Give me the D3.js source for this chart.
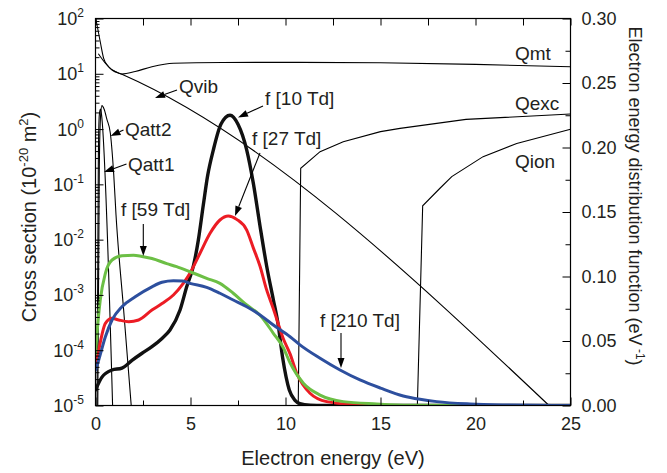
<!DOCTYPE html>
<html>
<head>
<meta charset="utf-8">
<script src="https://cdn.jsdelivr.net/npm/d3@7"></script>
<style>
  body { margin: 0; background: #fff; }
  #container { width: 667px; height: 473px; }
  text { font-family: "Liberation Sans", Arial, sans-serif; fill: #231f20; }
</style>
</head>
<body>
<div id="container"></div>
<script>
const width = 667;
const height = 473;

// axis ticks
const energyTicks = [0, 5, 10, 15, 20, 25];
const energyMinor = [2.5, 7.5, 12.5, 17.5, 22.5];
const csExponents = [2, 1, 0, -1, -2, -3, -4, -5];
const eedfTicks = [0, 0.05, 0.10, 0.15, 0.20, 0.25, 0.30];

// cross sections (10^-20 m^2) vs energy (eV)
const qmtE = [0.02, 0.25, 0.43, 0.69, 1.04, 1.39, 2.09, 2.97, 4.1, 6.7, 10.7, 15, 20, 25];
const qmtV = [98, 38, 19, 13.4, 11, 9.9, 11, 13.4, 15.5, 16, 16.1, 15.8, 14.8, 13.4];
const qvibE = [0.15, 0.52, 0.87, 1.39, 23.87];
const qvibV = [23, 15.5, 11.7, 9.8, 1e-5];
const qexcE = [10.67, 10.8, 11.82, 13.04, 15.0, 16.03, 19.5, 25];
const qexcV = [1e-5, 0.195, 0.39, 0.59, 0.9, 1.03, 1.5, 1.87];
const qionE = [16.94, 17.22, 18.13, 18.75, 20.4, 22.17, 25];
const qionV = [1e-5, 0.041, 0.085, 0.138, 0.317, 0.55, 0.99];
const qatt1E = [0.08, 0.15, 0.2, 0.26, 0.3, 0.9];
const qatt1V = [1e-5, 0.3, 1.8, 2.3, 2.0, 1e-5];
const qatt2E = [0.12, 0.2, 0.27, 0.34, 0.45, 0.6, 0.78, 0.96, 1.08, 1.48, 1.88];
const qatt2V = [1e-5, 0.2, 1.8, 2.65, 2.3, 1.5, 0.85, 0.15, 0.028, 5.4e-4, 1e-5];

// electron energy distribution functions (eV^-1)
const f10E = [0, 0.34, 0.87, 1.39, 1.92, 2.45, 2.97, 3.5, 3.92, 4.45, 4.8, 5.15, 5.41, 5.67, 5.9, 6.2, 6.6, 7.08, 7.5, 7.96, 8.31, 8.66, 9.01, 9.36, 9.6, 9.85, 10.2, 10.5, 10.76, 11.3, 12, 25];
const f10V = [0.012, 0.022, 0.0275, 0.029, 0.035, 0.0405, 0.0456, 0.052, 0.0585, 0.074, 0.092, 0.108, 0.128, 0.155, 0.178, 0.198, 0.218, 0.225, 0.218, 0.198, 0.172, 0.139, 0.108, 0.082, 0.064, 0.037, 0.012, 0.004, 0.0015, 0.0003, 0, 0];
const f27E = [0, 0.17, 0.52, 0.87, 1.22, 1.75, 2.27, 2.97, 3.5, 4.1, 4.62, 4.97, 5.5, 6.03, 6.55, 6.99, 7.43, 7.96, 8.31, 8.66, 9.0, 9.36, 9.88, 10.24, 10.59, 11.29, 12.17, 13.9, 15, 25];
const f27V = [0.030, 0.043, 0.0637, 0.0676, 0.0663, 0.065, 0.0663, 0.074, 0.079, 0.0857, 0.0947, 0.1025, 0.118, 0.1335, 0.1438, 0.1469, 0.1443, 0.136, 0.122, 0.108, 0.09, 0.075, 0.052, 0.04, 0.025, 0.0095, 0.003, 0.0004, 0, 0];
const f59E = [0, 0.08, 0.25, 0.52, 0.87, 1.39, 2.0, 2.45, 2.97, 3.75, 4.27, 4.97, 5.85, 6.55, 7.25, 7.96, 8.66, 9.36, 9.88, 10.24, 10.94, 11.82, 13.04, 14.8, 16.5, 25];
const f59V = [0.040, 0.056, 0.0818, 0.1025, 0.1128, 0.116, 0.1165, 0.1155, 0.114, 0.110, 0.1076, 0.1037, 0.0986, 0.0947, 0.087, 0.0779, 0.070, 0.056, 0.045, 0.033, 0.0172, 0.0081, 0.003, 0.0012, 0.0002, 0];
const f210E = [0, 0.17, 0.52, 0.87, 1.39, 2.09, 2.97, 3.5, 4.1, 4.6, 4.97, 5.85, 6.55, 7.25, 7.96, 8.66, 9.36, 10.24, 10.76, 11.82, 12.87, 13.92, 15.0, 16.2, 17.08, 17.96, 19.71, 21.5, 23, 25];
const f210V = [0.0275, 0.0353, 0.0533, 0.0663, 0.0766, 0.0843, 0.092, 0.0955, 0.0967, 0.0965, 0.0947, 0.0916, 0.087, 0.0818, 0.0766, 0.0702, 0.0624, 0.0533, 0.047, 0.0366, 0.0275, 0.0198, 0.0135, 0.0074, 0.0048, 0.003, 0.0012, 0.0004, 0.0001, 0];

const svg = d3.create("svg")
    .attr("width", width)
    .attr("height", height)
    .attr("viewBox", `0 0 ${width} ${height}`)
    .attr("xmlns", "http://www.w3.org/2000/svg");

const plotLeft = 95.5, plotRight = 570.5, plotTop = 18.5, plotBottom = 405.5;

const x = d3.scaleLinear().domain([0, 25]).range([plotLeft, plotRight]);
const yL = d3.scaleLog().domain([1e-5, 1e2]).range([plotBottom, plotTop]);
const yR = d3.scaleLinear().domain([0, 0.30]).range([plotBottom, plotTop]);

svg.append("clipPath").attr("id", "plot-clip")
    .append("rect")
    .attr("x", plotLeft).attr("y", plotTop)
    .attr("width", plotRight - plotLeft).attr("height", plotBottom - plotTop);

const zip = (a, b) => a.map((v, i) => [v, b[i]]);

// cross section curves
const csLine = d3.line().x(d => x(d[0])).y(d => yL(d[1])).curve(d3.curveMonotoneX);
const csLinear = d3.line().x(d => x(d[0])).y(d => yL(d[1]));

const cs = svg.append("g").attr("clip-path", "url(#plot-clip)")
    .attr("fill", "none").attr("stroke", "#000").attr("stroke-width", 1.1);
cs.append("path").attr("d", csLine(zip(qmtE, qmtV)));
cs.append("path").attr("d", csLine(zip(qvibE, qvibV)));
cs.append("path").attr("d", csLinear(zip(qexcE, qexcV)));
cs.append("path").attr("d", csLinear(zip(qionE, qionV)));
cs.append("path").attr("d", csLine(zip(qatt1E, qatt1V)));
cs.append("path").attr("d", csLine(zip(qatt2E, qatt2V)));

// EEDF curves
const fLine = d3.line().x(d => x(d[0])).y(d => yR(d[1])).curve(d3.curveMonotoneX);
const ef = svg.append("g").attr("clip-path", "url(#plot-clip)")
    .attr("fill", "none").attr("stroke-linejoin", "round").attr("stroke-linecap", "round");
ef.append("path").attr("d", fLine(zip(f10E, f10V))).attr("stroke", "#111").attr("stroke-width", 3.4);
ef.append("path").attr("d", fLine(zip(f27E, f27V))).attr("stroke", "#ec1c24").attr("stroke-width", 3);
ef.append("path").attr("d", fLine(zip(f59E, f59V))).attr("stroke", "#6cbf45").attr("stroke-width", 3);
ef.append("path").attr("d", fLine(zip(f210E, f210V))).attr("stroke", "#2d4f9e").attr("stroke-width", 3);

// axes
const noDomain = g => g.select(".domain").remove();
const tickStyle = g => g.selectAll("line").attr("stroke", "#000");

svg.append("g").attr("transform", `translate(0,${plotBottom})`)
    .call(d3.axisBottom(x).tickValues(energyTicks).tickSizeInner(-8).tickSizeOuter(0).tickPadding(12).tickFormat(d3.format("d")))
    .call(noDomain).call(tickStyle)
    .selectAll("text").attr("font-size", 18).attr("fill", "#231f20").attr("font-family", null);
svg.append("g").attr("transform", `translate(0,${plotBottom})`)
    .call(d3.axisBottom(x).tickValues(energyMinor).tickSizeInner(-5).tickSizeOuter(0).tickFormat(""))
    .call(noDomain).call(tickStyle);
svg.append("g").attr("transform", `translate(0,${plotTop})`)
    .call(d3.axisTop(x).tickValues(energyTicks.concat(energyMinor)).tickSizeInner(-7).tickSizeOuter(0).tickFormat(""))
    .call(noDomain).call(tickStyle);

const decades = csExponents.map(e => Math.pow(10, e));
const logMinor = [];
csExponents.slice(1).forEach(e => {
    for (let m = 2; m <= 9; m++) logMinor.push(m * Math.pow(10, e));
});
svg.append("g").attr("transform", `translate(${plotLeft},0)`)
    .call(d3.axisLeft(yL).tickValues(decades).tickSizeInner(-8).tickSizeOuter(0).tickFormat(""))
    .call(noDomain).call(tickStyle);
svg.append("g").attr("transform", `translate(${plotLeft},0)`)
    .call(d3.axisLeft(yL).tickValues(logMinor).tickSizeInner(-4).tickSizeOuter(0).tickFormat(""))
    .call(noDomain).call(tickStyle);

const leftLabels = svg.append("g").selectAll("text").data(csExponents).join("text")
    .attr("x", 84)
    .attr("y", e => yL(Math.pow(10, e)) + 6.5)
    .attr("text-anchor", "end")
    .attr("font-size", 18);
leftLabels.append("tspan").text("10");
leftLabels.append("tspan").attr("font-size", 12).attr("dy", -8).text(e => e < 0 ? "-" + Math.abs(e) : e);

svg.append("g").attr("transform", `translate(${plotRight},0)`)
    .call(d3.axisRight(yR).tickValues(eedfTicks).tickSizeInner(-8).tickSizeOuter(0).tickPadding(11).tickFormat(d3.format(".2f")))
    .call(noDomain).call(tickStyle)
    .selectAll("text").attr("font-size", 18).attr("fill", "#231f20").attr("font-family", null);
svg.append("g").attr("transform", `translate(${plotRight},0)`)
    .call(d3.axisRight(yR).tickValues(d3.range(0.025, 0.3, 0.05)).tickSizeInner(-5).tickSizeOuter(0).tickFormat(""))
    .call(noDomain).call(tickStyle);

svg.append("rect")
    .attr("x", plotLeft).attr("y", plotTop)
    .attr("width", plotRight - plotLeft).attr("height", plotBottom - plotTop)
    .attr("fill", "none").attr("stroke", "#000").attr("stroke-width", 1.2);

// axis titles
svg.append("text")
    .attr("x", (plotLeft + plotRight) / 2).attr("y", 465)
    .attr("text-anchor", "middle").attr("font-size", 20)
    .text("Electron energy (eV)");

const yTitle = svg.append("text")
    .attr("transform", "translate(36,217) rotate(-90)")
    .attr("text-anchor", "middle").attr("font-size", 20);
yTitle.append("tspan").text("Cross section (10");
yTitle.append("tspan").attr("font-size", 13).attr("dy", -8).text("-20");
yTitle.append("tspan").attr("dy", 8).text(" m");
yTitle.append("tspan").attr("font-size", 13).attr("dy", -8).text("2");
yTitle.append("tspan").attr("dy", 8).text(")");

const y2Title = svg.append("text")
    .attr("transform", "translate(629,196) rotate(90)")
    .attr("text-anchor", "middle").attr("font-size", 18);
y2Title.append("tspan").text("Electron energy distribution function (eV");
y2Title.append("tspan").attr("font-size", 12).attr("dy", -7).text(" -1");
y2Title.append("tspan").attr("dy", 7).text(")");

// curve labels (pixel layout) with arrows
const labels = [
    { text: "Qmt", tx: 515, ty: 60 },
    { text: "Qexc", tx: 515, ty: 110 },
    { text: "Qion", tx: 515, ty: 168 },
    { text: "Qvib", tx: 179, ty: 93, a: [177, 90, 155, 98] },
    { text: "f [10 Td]", tx: 265, ty: 105, a: [263, 106, 238, 117.5] },
    { text: "f [27 Td]", tx: 252, ty: 145, a: [260, 153, 235, 216] },
    { text: "f [59 Td]", tx: 121, ty: 216, a: [143.3, 224, 143.3, 256] },
    { text: "f [210 Td]", tx: 320, ty: 327, a: [341, 333, 341, 368] },
    { text: "Qatt2", tx: 125, ty: 136, a: [123.5, 130, 110.5, 136] },
    { text: "Qatt1", tx: 128, ty: 171, a: [126.5, 164, 104, 172] }
];

const ann = svg.append("g");
labels.forEach(l => {
    ann.append("text").attr("x", l.tx).attr("y", l.ty).attr("font-size", 19).text(l.text);
    if (!l.a) return;
    const [x1, y1, x2, y2] = l.a;
    const ang = Math.atan2(y2 - y1, x2 - x1);
    const len = 10, hw = 3.5;
    const bx = x2 - len * Math.cos(ang), by = y2 - len * Math.sin(ang);
    ann.append("line").attr("x1", x1).attr("y1", y1).attr("x2", bx).attr("y2", by)
        .attr("stroke", "#000").attr("stroke-width", 1.1);
    const px = -Math.sin(ang) * hw, py = Math.cos(ang) * hw;
    ann.append("path")
        .attr("d", `M${x2},${y2}L${bx + px},${by + py}L${bx - px},${by - py}Z`)
        .attr("fill", "#000");
});

document.getElementById("container").append(svg.node());
</script>
</body>
</html>
